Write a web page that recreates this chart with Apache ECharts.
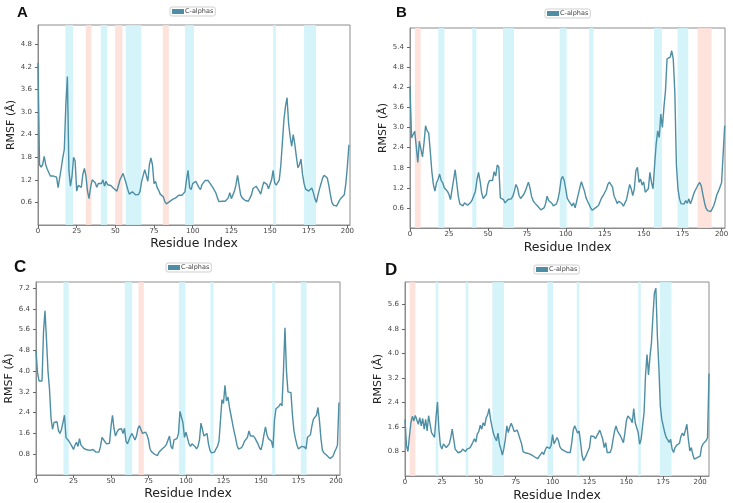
<!DOCTYPE html>
<html><head><meta charset="utf-8">
<script src="https://cdn.jsdelivr.net/npm/echarts@6/dist/echarts.min.js"></script>
<style>html,body{margin:0;padding:0;background:#fff}#c{width:733px;height:503px}</style>
</head><body><div id="c"></div><script>
// RMSF values per residue (index = residue number)
const rmsfA = [4.3,1.6,1.54,1.6,1.82,1.6,1.48,1.45,1.3,1.34,
1.3,1.34,1.27,0.99,1.0,1.5,1.78,2.0,3.19,3.94,
1.43,1.03,1.3,1.8,1.7,0.9,1.05,1.1,1.0,1.35,
1.5,1.3,0.9,0.7,1.0,1.2,1.15,1.12,1.0,1.1,
1.12,1.1,1.2,1.03,1.16,1.07,1.07,1.05,1.0,0.97,
0.93,0.9,1.05,1.2,1.25,1.37,1.34,1.1,0.95,0.82,
0.78,0.88,0.87,0.8,0.8,0.81,0.9,1.16,1.2,1.47,
1.5,1.16,1.6,1.78,1.6,1.1,1.16,1.0,0.92,0.82,
0.78,0.75,0.62,0.56,0.58,0.62,0.66,0.68,0.66,0.72,
0.74,0.79,0.81,0.79,0.84,0.88,1.2,1.45,1.0,0.94,
1.1,1.07,1.16,1.16,1.0,0.94,1.07,1.03,1.18,1.23,
1.18,1.12,1.12,1.0,0.95,0.85,0.72,0.62,0.6,0.63,
0.62,0.63,0.64,0.72,0.86,0.7,0.7,0.9,1.07,1.32,
1.3,0.8,0.72,0.74,0.65,0.63,0.63,0.66,0.8,0.97,
0.92,1.03,1.07,0.9,0.82,1.0,1.14,1.15,1.08,0.96,
0.94,1.2,1.45,1.12,1.06,1.07,1.2,1.6,2.2,2.8,
3.15,3.38,2.7,2.35,2.09,2.4,2.15,1.82,1.52,1.6,
1.75,1.35,1.1,0.95,0.92,0.9,0.94,0.98,0.86,0.7,
0.6,0.8,0.96,1.1,1.25,1.32,1.32,1.25,1.05,0.81,
0.6,0.53,0.52,0.5,0.53,0.66,0.72,0.68,0.8,1.1,
1.55,2.13];
const rmsfB = [4.23,2.69,2.79,2.89,2.44,1.96,2.59,2.61,2.12,2.54,
3.05,2.9,2.84,2.3,1.7,1.3,1.1,1.35,1.45,1.61,
1.42,1.35,1.2,1.25,1.1,1.0,0.85,1.15,1.44,1.74,
1.74,0.95,0.72,0.67,0.66,0.75,0.8,0.68,0.72,0.77,
0.85,0.9,1.1,1.44,1.66,1.4,1.05,0.88,0.87,1.0,
1.3,1.42,1.4,1.42,1.68,1.55,1.88,1.82,0.9,0.88,
0.85,0.75,0.73,0.85,0.9,0.87,0.95,1.1,1.3,1.2,
0.97,0.88,0.9,1.0,1.1,1.12,1.37,1.2,0.95,0.82,
0.75,0.7,0.65,0.6,0.54,0.52,0.6,0.72,0.95,0.82,
0.8,0.74,0.66,0.66,0.72,0.85,1.1,1.45,1.54,1.42,
1.15,0.88,0.8,0.8,0.66,0.75,0.6,0.8,0.75,1.2,
1.38,1.4,1.1,0.9,0.8,0.75,0.6,0.53,0.57,0.6,
0.65,0.67,0.65,0.9,0.97,1.02,1.15,1.3,1.37,1.32,
1.22,0.95,0.85,0.73,0.8,0.75,0.73,0.65,0.75,0.85,
0.9,1.3,1.17,0.97,1.17,1.71,1.81,1.36,1.46,1.28,
1.38,1.07,1.12,1.17,1.66,1.36,1.17,1.86,2.5,2.9,
2.7,3.4,3.0,3.6,4.1,5.05,5.05,5.1,5.29,5.04,
4.05,1.9,1.17,0.87,0.72,0.7,0.72,0.82,0.74,0.87,
0.72,0.85,1.0,1.12,1.2,1.3,1.36,1.25,1.0,0.77,
0.59,0.52,0.47,0.49,0.57,0.67,0.82,1.0,1.1,1.15,
1.35,2.2,3.05];
const rmsfC = [4.78,3.95,3.62,3.62,3.62,5.5,6.32,5.2,4.0,3.3,
2.2,1.76,2.02,2.08,2.05,1.7,1.6,1.76,1.8,2.3,
1.44,1.38,1.3,1.25,1.1,0.98,1.15,1.26,1.1,1.4,
1.15,1.17,1.02,1.0,0.97,0.96,0.95,0.97,0.98,0.92,
0.88,0.85,0.88,1.1,1.45,1.38,1.28,1.2,1.2,1.22,
1.85,2.3,1.8,1.5,1.65,1.75,1.7,1.78,1.6,1.8,
1.3,1.2,1.15,1.5,1.6,1.55,1.35,1.5,1.8,1.9,
1.95,1.6,1.55,1.65,1.55,1.35,1.0,0.9,0.85,0.8,
0.75,0.75,0.88,0.92,1.0,1.0,1.1,1.18,1.2,1.5,
1.1,1.0,1.35,1.3,1.4,1.6,2.45,2.45,2.0,1.45,
1.65,1.6,1.2,1.1,1.2,1.15,1.1,1.0,1.1,1.35,
2.0,1.75,1.5,1.45,1.6,1.2,0.95,0.85,0.8,0.88,
1.0,1.1,1.3,2.1,2.9,2.75,3.45,2.85,3.0,2.6,
2.3,2.0,1.7,1.45,1.15,1.0,1.0,1.05,1.15,1.3,
1.35,1.45,1.7,1.5,1.5,1.5,1.42,1.35,1.2,1.05,
0.97,1.2,1.55,1.85,1.55,1.4,1.35,1.3,1.05,2.1,
2.55,2.62,2.65,2.75,2.66,4.0,5.67,4.0,3.2,3.17,
3.17,2.3,1.7,1.4,1.15,1.0,0.95,1.1,1.05,1.08,
1.0,1.45,1.4,1.55,1.9,2.15,2.2,2.3,2.6,2.1,
1.4,0.95,0.85,0.9,0.75,0.72,0.63,0.63,0.72,0.88,
1.0,1.15,2.79];
const rmsfD = [1.85,1.0,0.8,1.3,1.74,1.95,1.8,1.98,2.0,1.69,
1.91,1.64,1.88,1.53,1.85,1.47,1.97,1.98,1.42,1.4,
1.26,1.9,2.42,1.5,1.0,0.88,1.05,1.09,0.93,0.88,
1.05,1.25,1.53,1.2,0.88,0.82,0.76,0.75,0.8,0.88,
0.82,0.8,0.88,0.9,0.92,0.98,1.1,1.22,1.11,1.38,
1.45,1.66,1.53,1.74,1.64,1.9,2.0,2.2,1.85,1.6,
1.38,1.25,1.15,1.4,1.04,0.88,0.68,0.9,1.2,1.64,
1.42,1.6,1.72,1.6,1.45,1.47,1.5,1.36,1.2,1.05,
0.8,0.75,0.75,0.74,0.73,0.7,0.68,0.65,0.62,0.6,
0.57,0.65,0.7,0.78,0.7,0.85,0.95,0.9,0.9,1.0,
1.35,1.05,1.15,1.26,1.15,0.95,0.88,0.85,0.82,0.78,
0.77,0.77,0.77,1.09,1.5,1.64,1.62,1.4,1.47,1.09,
0.66,0.5,0.55,0.7,0.82,0.93,1.31,1.33,1.29,1.22,
1.31,1.4,1.5,1.55,1.2,0.93,1.09,0.77,0.75,0.77,
0.9,1.2,1.47,1.64,1.47,1.53,1.31,1.2,1.09,1.4,
1.8,1.96,1.96,1.85,1.74,2.2,1.74,1.8,1.42,1.04,
1.2,1.64,2.07,3.3,3.97,3.3,3.9,4.35,5.22,5.98,
6.14,4.6,3.6,2.3,1.85,1.64,1.42,1.26,1.2,1.1,
1.2,0.88,0.77,0.93,1.0,1.04,1.07,1.3,1.4,1.31,
1.5,1.69,1.2,0.82,0.93,0.71,0.55,0.6,0.6,0.57,
0.65,0.95,1.05,1.09,1.15,1.25,3.35];

// Secondary-structure ranges (residue start, end)
const helixA = [[17.7,22.7],[40.6,44.7],[56.7,66.7],[95,100.8],[152,153.8],[172,179.7]];
const strandA = [[30.9,34.5],[49.8,54.6],[80.7,84.6]];
const helixB = [[18.2,22.1],[40,42.6],[59.7,66.8],[96.1,100.6],[115,117.8],[156.7,161.7],[171.7,178.6]];
const strandB = [[3.2,6.9],[184.6,193.6]];
const helixC = [[18.3,21.8],[59.2,64.1],[95.3,99.6],[116.3,118.3],[157.5,159.5],[176.6,180.4]];
const strandC = [[68.4,71.9]];
const helixD = [[20.8,22.6],[41.1,42.9],[59.2,67.1],[96.5,100.3],[116.4,118.2],[158,159.8],[172.7,180.6]];
const strandD = [[3.2,7]];

const xTicks = [0,25,50,75,100,125,150,175,200];
const yTicksAB = [0.6,1.2,1.8,2.4,3.0,3.6,4.2,4.8,5.4];
const yTicksCD = [0.8,1.6,2.4,3.2,4.0,4.8,5.6,6.4,7.2];
const panelLetters = ['A','B','C','D'];
const seriesName = 'C-alphas';
const xTitle = 'Residue Index';
const yTitle = 'RMSF (Å)';

const panels = [
  {data: rmsfA, helix: helixA, strand: strandA, grid:{left:38,top:25,width:312,height:200}, xMax:201.7, yMax:5.31, step:0.6, ticks:yTicksAB,
   letter:{left:17,top:5,size:15}, legend:{left:170,top:7}, xGap:12, yGap:20},
  {data: rmsfB, helix: helixB, strand: strandB, grid:{left:410,top:28,width:315,height:200}, xMax:202.2, yMax:5.97, step:0.6, ticks:yTicksAB,
   letter:{left:396,top:5,size:15}, legend:{left:545,top:9}, xGap:13, yGap:20},
  {data: rmsfC, helix: helixC, strand: strandC, grid:{left:36,top:282,width:304,height:193}, xMax:202.7, yMax:7.43, step:0.8, ticks:yTicksCD,
   letter:{left:14,top:259,size:17}, legend:{left:166,top:263}, xGap:12, yGap:18},
  {data: rmsfD, helix: helixD, strand: strandD, grid:{left:405,top:282,width:304,height:195}, xMax:206, yMax:6.34, step:0.8, ticks:yTicksCD,
   letter:{left:385,top:262,size:17}, legend:{left:534,top:265}, xGap:13, yGap:18}
];

const lineColor = '#4d8ea4';
const helixColor = 'rgba(204,242,249,0.85)';
const strandColor = 'rgba(253,222,214,0.85)';
const frameColor = '#8c8c8c';
const font = 'DejaVu Sans';

const option = {
  backgroundColor: '#fff',
  animation: false,
  title: [], legend: [], grid: [], xAxis: [], yAxis: [], series: []
};

panels.forEach((p, i) => {
  option.title.push({text: panelLetters[i], left: p.letter.left, top: p.letter.top, padding: 0,
    textStyle: {fontSize: p.letter.size, fontWeight: 'bold', color: '#111', fontFamily: 'Liberation Sans'}});
  option.legend.push({data: [seriesName], left: p.legend.left, top: p.legend.top, icon: 'rect',
    itemWidth: 12, itemHeight: 5, padding: [1, 2], borderColor: '#cfcfcf', borderWidth: 1, borderRadius: 2,
    selectedMode: false, textStyle: {fontSize: 6.5, color: '#444', fontFamily: font, padding: [0,0,0,-4]}});
  option.grid.push(Object.assign({show: true, borderColor: frameColor, borderWidth: 1, backgroundColor: '#fff'}, p.grid));
  option.xAxis.push({type: 'value', gridIndex: i, min: 0, max: p.xMax, interval: 25,
    name: xTitle, nameLocation: 'middle', nameGap: p.xGap,
    nameTextStyle: {fontSize: 12.5, color: '#222', fontFamily: font},
    axisLine: {show: true, lineStyle: {color: frameColor, width: 1}},
    axisTick: {show: true, length: 3, lineStyle: {color: '#666'}, customValues: xTicks},
    axisLabel: {fontSize: 7, color: '#444', margin: 3, fontFamily: font, customValues: xTicks,
      formatter: v => String(Math.round(v))},
    splitLine: {show: false}});
  option.yAxis.push({type: 'value', gridIndex: i, min: 0, max: p.yMax, interval: p.step,
    name: yTitle, nameLocation: 'middle', nameGap: p.yGap, nameRotate: 90,
    nameTextStyle: {fontSize: 11, color: '#222', fontFamily: font},
    axisLine: {show: true, lineStyle: {color: frameColor, width: 1}},
    axisTick: {show: true, length: 3, lineStyle: {color: '#666'}, customValues: p.ticks},
    axisLabel: {fontSize: 7, color: '#444', margin: 6, fontFamily: font, customValues: p.ticks,
      formatter: v => v.toFixed(1)},
    splitLine: {show: false}});
  const areas = [];
  p.helix.forEach(r => areas.push([{xAxis: r[0], itemStyle: {color: helixColor}}, {xAxis: r[1]}]));
  p.strand.forEach(r => areas.push([{xAxis: r[0], itemStyle: {color: strandColor}}, {xAxis: r[1]}]));
  option.series.push({type: 'line', name: seriesName, xAxisIndex: i, yAxisIndex: i,
    data: p.data.map((v, k) => [k, v]), showSymbol: false, symbol: 'none',
    lineStyle: {color: lineColor, width: 1.4}, itemStyle: {color: lineColor},
    markArea: {silent: true, data: areas}, z: 3});
});

const chart = echarts.init(document.getElementById('c'), null, {renderer: 'canvas'});
chart.setOption(option);
</script></body></html>
